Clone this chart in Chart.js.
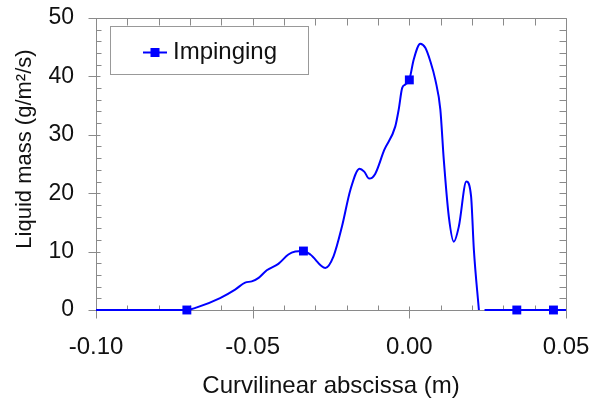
<!DOCTYPE html>
<html>
<head>
<meta charset="utf-8">
<script src="https://cdn.jsdelivr.net/npm/chart.js@4.4.0/dist/chart.umd.min.js"></script>
<style>
  html, body { margin: 0; padding: 0; background: #fff; }
</style>
</head>
<body>
<canvas id="myChart" width="603" height="402"></canvas>
<script>
// dados
const posicoes = [-0.100, -0.071, -0.0678, -0.0604, -0.0556, -0.0524, -0.0503, -0.0481, -0.0455, -0.0418,
    -0.0386, -0.0364, -0.0338, -0.0316, -0.0268, -0.0242, -0.0215, -0.0188, -0.0159, -0.0144,
    -0.0128, -0.0109, -0.0080, -0.0045, -0.0034, -0.0023, -0.0013, 0.0000, 0.0014, 0.0035,
    0.0051, 0.0067, 0.0083, 0.0099, 0.0110, 0.0126, 0.0142, 0.0158, 0.0182, 0.0197,
    0.0206, 0.0222, 0.0231, 0.0240, 0.0343, 0.046, 0.050];
const valores = [0, 0, 0.45, 2.05, 3.5, 4.7, 4.9, 5.5, 6.8, 7.9,
    9.5, 10.0, 10.1, 9.5, 7.2, 9.2, 14.3, 20.6, 24.2, 23.7,
    22.5, 23.3, 27.4, 31.4, 34.3, 38.0, 38.6, 39.4, 42.9, 45.6,
    44.9, 42.6, 39.4, 34.3, 25.7, 16.0, 11.7, 14.3, 22.0, 19.5,
    10.3, 0, null, 0, 0, 0, 0];
const marcadores = [-0.071, -0.0338, 0.0000, 0.0343, 0.046];
const xTicks = [-0.10, -0.05, 0.00, 0.05];
const yTicks = [0, 10, 20, 30, 40, 50];
const tituloX = "Curvilinear abscissa (m)";
const tituloY = "Liquid mass (g/m²/s)";
const legenda = "Impinging";

const azul = '#0000ff';
const fonte = '"Liberation Sans", Arial, sans-serif';

const pontos = posicoes.map((x, i) => ({ x: x, y: valores[i] }));

// moldura com marcas de escala
const moldura = {
    id: 'moldura',
    beforeDatasetsDraw(chart) {
        const ctx = chart.ctx;
        const a = chart.chartArea;
        const sx = chart.scales.x;
        const sy = chart.scales.y;
        const l = Math.round(a.left) + 0.5, r = Math.round(a.right) + 0.5;
        const t = Math.round(a.top) + 0.5, b = Math.round(a.bottom) + 0.5;
        ctx.save();
        ctx.strokeStyle = '#8a8a8a';
        ctx.lineWidth = 1;
        ctx.beginPath();
        ctx.rect(l, t, r - l, b - t);
        for (let i = 0; i <= 15; i++) {
            const px = Math.round(sx.getPixelForValue(-0.10 + i * 0.01)) + 0.5;
            if (i % 5 == 0) {
                ctx.moveTo(px, b - 4); ctx.lineTo(px, b + 8);
            } else {
                ctx.moveTo(px, b - 5); ctx.lineTo(px, b);
            }
            ctx.moveTo(px, t); ctx.lineTo(px, t + 7);
        }
        for (let i = 0; i <= 25; i++) {
            const py = Math.round(sy.getPixelForValue(i * 2)) + 0.5;
            if (i % 5 == 0) {
                ctx.moveTo(l - 8, py); ctx.lineTo(l + 4, py);
            } else {
                ctx.moveTo(l, py); ctx.lineTo(l + 5, py);
            }
            ctx.moveTo(r - 7, py); ctx.lineTo(r, py);
        }
        ctx.stroke();
        ctx.restore();
    },
    afterDraw(chart) {
        const ctx = chart.ctx;
        ctx.save();
        // legenda
        ctx.fillStyle = '#fff';
        ctx.fillRect(110.5, 26.5, 198, 48);
        ctx.strokeStyle = '#999';
        ctx.lineWidth = 1;
        ctx.strokeRect(110.5, 26.5, 198, 48);
        ctx.strokeStyle = azul;
        ctx.lineWidth = 2;
        ctx.beginPath();
        ctx.moveTo(143, 52.5); ctx.lineTo(167, 52.5);
        ctx.stroke();
        ctx.fillStyle = azul;
        ctx.fillRect(150.5, 48, 9, 9);
        ctx.fillStyle = '#111';
        ctx.font = '24px ' + fonte;
        ctx.textBaseline = 'middle';
        ctx.textAlign = 'left';
        ctx.fillText(legenda, 173, 52);
        // titulo do eixo vertical
        ctx.translate(25, 149);
        ctx.rotate(-Math.PI / 2);
        ctx.textAlign = 'center';
        ctx.font = '22px ' + fonte;
        ctx.fillText(tituloY, 0, 0);
        ctx.restore();
    }
};

// marcas invisiveis so para afastar os rotulos
const gradeInvisivel = (comp) => ({
    display: true,
    drawOnChartArea: false,
    drawTicks: true,
    tickLength: comp,
    tickColor: 'rgba(0,0,0,0)',
    color: 'rgba(0,0,0,0)'
});

const ctx = document.getElementById('myChart');
const chart = new Chart(ctx, {
    type: 'line',
    data: {
        datasets: [{
            label: legenda,
            data: pontos,
            borderColor: azul,
            backgroundColor: azul,
            borderWidth: 2,
            cubicInterpolationMode: 'monotone',
            spanGaps: false,
            clip: false,
            pointStyle: 'rect',
            pointRadius: (c) => (c.raw && marcadores.includes(c.raw.x)) ? 6.3 : 0,
            pointHoverRadius: 0,
            pointBorderWidth: 0
        }]
    },
    options: {
        responsive: false,
        animation: false,
        events: [],
        layout: { padding: { left: 0, right: 37, top: 18, bottom: 0 } },
        plugins: {
            legend: { display: false },
            tooltip: { enabled: false }
        },
        scales: {
            x: {
                type: 'linear',
                min: -0.10,
                max: 0.05,
                afterBuildTicks: (s) => { s.ticks = xTicks.map(v => ({ value: v })); },
                afterFit: (s) => { s.height = 92; },
                grid: gradeInvisivel(23),
                border: { display: false },
                ticks: {
                    padding: 0,
                    color: '#111',
                    font: { family: fonte, size: 24 },
                    maxRotation: 0,
                    callback: (v) => v.toFixed(2)
                },
                title: {
                    display: true,
                    text: tituloX,
                    color: '#111',
                    font: { family: fonte, size: 24 },
                    padding: { top: 0, bottom: 1 }
                }
            },
            y: {
                min: 0,
                max: 50,
                afterBuildTicks: (s) => { s.ticks = yTicks.map(v => ({ value: v })); },
                afterFit: (s) => { s.width = 96; },
                grid: gradeInvisivel(22),
                border: { display: false },
                ticks: {
                    padding: 0,
                    color: '#111',
                    font: { family: fonte, size: 23 }
                }
            }
        }
    },
    plugins: [moldura]
});
</script>
</body>
</html>
